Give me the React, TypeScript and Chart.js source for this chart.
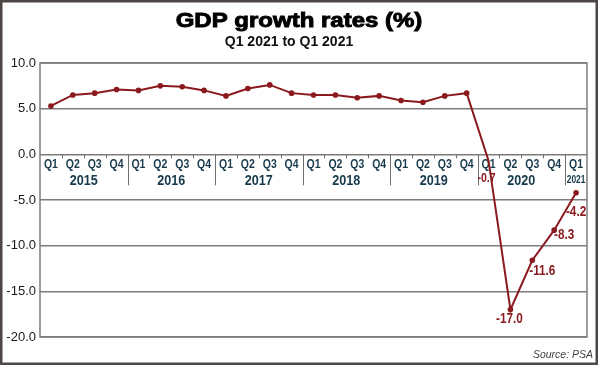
import React, { useEffect, useRef } from "react";
import { Chart, registerables } from "chart.js";

Chart.register(...registerables);

const categories = [
  "Q1 2015", "Q2 2015", "Q3 2015", "Q4 2015",
  "Q1 2016", "Q2 2016", "Q3 2016", "Q4 2016",
  "Q1 2017", "Q2 2017", "Q3 2017", "Q4 2017",
  "Q1 2018", "Q2 2018", "Q3 2018", "Q4 2018",
  "Q1 2019", "Q2 2019", "Q3 2019", "Q4 2019",
  "Q1 2020", "Q2 2020", "Q3 2020", "Q4 2020",
  "Q1 2021",
];

const gdpGrowth = [
  5.3, 6.5, 6.7, 7.1,
  7.0, 7.5, 7.4, 7.0,
  6.4, 7.2, 7.6, 6.7,
  6.5, 6.5, 6.2, 6.4,
  5.9, 5.7, 6.4, 6.7,
  -0.7, -17.0, -11.6, -8.3,
  -4.2,
];

const yTicks = [10, 5, 0, -5, -10, -15, -20];

const TITLE = "GDP growth rates (%)";
const SUBTITLE = "Q1 2021 to Q1 2021";
const SOURCE = "Source: PSA";

const SANS = "'Liberation Sans', Arial, sans-serif";
const LINE_COLOR = "#8b1a1e";
const AXIS_TEXT = "#173a4c";
const GRID = "#7c7c7c";
const NARROW_X = 0.84;

// label offsets (px) relative to the point and font size, by category index
const labelOffsets: Record<number, [number, number, number]> = {
  20: [-2, 18, 12.5],
  21: [-1, 10, 14],
  22: [10, 11, 14],
  23: [10, 5, 14],
  24: [0, 19, 14],
};

function scaledText(ctx: any, text: string, x: number, y: number, sx: number) {
  ctx.save();
  ctx.translate(x, y);
  ctx.scale(sx, 1);
  ctx.fillText(text, 0, 0);
  ctx.restore();
}

function narrowText(ctx: any, text: string, x: number, y: number) {
  scaledText(ctx, text, x, y, NARROW_X);
}

const framePlugin = {
  id: "frame",
  beforeDraw(chart: any) {
    const { ctx, width, height } = chart;
    ctx.save();
    ctx.fillStyle = "#ffffff";
    ctx.fillRect(0, 0, width, height);
    ctx.strokeStyle = "#4d4846";
    ctx.lineWidth = 2.5;
    ctx.strokeRect(1.25, 1.25, width - 4.5, height - 2.5);
    ctx.restore();
  },
  afterDraw(chart: any) {
    const { ctx, width, height } = chart;
    ctx.save();
    ctx.textAlign = "center";
    ctx.textBaseline = "alphabetic";
    // heavy title
    ctx.fillStyle = "#000";
    ctx.strokeStyle = "#000";
    ctx.lineWidth = 0.9;
    ctx.font = `bold 20px ${SANS}`;
    ctx.save();
    ctx.translate(299, 27);
    ctx.scale(1.2, 1);
    ctx.fillText(TITLE, 0, 0);
    ctx.strokeText(TITLE, 0, 0);
    ctx.restore();
    // subtitle
    ctx.fillStyle = "#111";
    ctx.font = `bold 14px ${SANS}`;
    ctx.fillText(SUBTITLE, 289, 45.5);
    // source
    ctx.font = `italic 10.5px ${SANS}`;
    ctx.fillStyle = "#444";
    ctx.textAlign = "right";
    ctx.textBaseline = "middle";
    ctx.fillText(SOURCE, width - 7, height - 10);
    ctx.restore();
  },
};

const quarterAxisPlugin = {
  id: "quarterAxis",
  beforeDatasetsDraw(chart: any) {
    const { ctx, chartArea, scales } = chart;
    const x = scales.x;
    const y = scales.y;
    const y0 = y.getPixelForValue(0);
    ctx.save();
    ctx.strokeStyle = GRID;
    ctx.lineWidth = 1.5;
    ctx.strokeRect(chartArea.left, chartArea.top, chartArea.width, chartArea.height);

    ctx.strokeStyle = "#6e6e6e";
    ctx.lineWidth = 1;
    for (let i = 1; i < categories.length; i++) {
      const bx = Math.round((x.getPixelForValue(i - 1) + x.getPixelForValue(i)) / 2) + 0.5;
      const q = categories[i].split(" ")[0];
      const len = q === "Q1" ? 31 : 4;
      ctx.beginPath();
      ctx.moveTo(bx, y0);
      ctx.lineTo(bx, y0 + len);
      ctx.stroke();
    }

    ctx.fillStyle = AXIS_TEXT;
    ctx.textAlign = "center";
    ctx.textBaseline = "middle";
    ctx.font = `bold 12.5px ${SANS}`;
    categories.forEach((c, i) => {
      const q = c.split(" ")[0];
      narrowText(ctx, q, x.getPixelForValue(i), y0 + 10.5);
    });

    const groups: Record<string, number[]> = {};
    const order: string[] = [];
    categories.forEach((c, i) => {
      const yr = c.split(" ")[1];
      if (!groups[yr]) {
        groups[yr] = [];
        order.push(yr);
      }
      groups[yr].push(i);
    });
    order.forEach((yr) => {
      const idx = groups[yr];
      const cx = (x.getPixelForValue(idx[0]) + x.getPixelForValue(idx[idx.length - 1])) / 2;
      if (idx.length < 4) {
        ctx.font = `bold 10px ${SANS}`;
        narrowText(ctx, yr, cx, y0 + 26);
      } else {
        ctx.font = `bold 15px ${SANS}`;
        narrowText(ctx, yr, cx, y0 + 27);
      }
    });
    ctx.restore();
  },
  afterDatasetsDraw(chart: any) {
    const { ctx } = chart;
    const meta = chart.getDatasetMeta(0);
    ctx.save();
    ctx.fillStyle = LINE_COLOR;
    ctx.textAlign = "center";
    ctx.textBaseline = "middle";
    gdpGrowth.forEach((v, i) => {
      const off = labelOffsets[i];
      if (!off) return;
      const pt = meta.data[i];
      ctx.font = `bold ${off[2]}px ${SANS}`;
      narrowText(ctx, v.toFixed(1), pt.x + off[0], pt.y + off[1]);
    });
    ctx.restore();
  },
};

export default function App() {
  const ref = useRef<HTMLCanvasElement>(null);

  useEffect(() => {
    document.body.style.margin = "0";
    document.body.style.overflow = "hidden";
    const canvas = ref.current;
    if (!canvas) return;
    const chart = new Chart(canvas, {
      type: "line",
      data: {
        labels: categories,
        datasets: [
          {
            data: gdpGrowth,
            borderColor: LINE_COLOR,
            backgroundColor: LINE_COLOR,
            borderWidth: 2,
            tension: 0,
            pointRadius: (c: any) => (c.dataIndex === 20 ? 0 : 2.8),
            pointBorderWidth: 0,
            pointBackgroundColor: LINE_COLOR,
          },
        ],
      },
      options: {
        animation: false,
        responsive: false,
        devicePixelRatio: 1,
        layout: { padding: { left: 0, right: 13, top: 63, bottom: 28 } },
        plugins: {
          legend: { display: false },
          tooltip: { enabled: false },
          title: { display: false },
        },
        scales: {
          x: {
            type: "category",
            display: false,
            offset: true,
          },
          y: {
            min: yTicks[yTicks.length - 1],
            max: yTicks[0],
            afterFit: (scale: any) => {
              scale.width = 40;
            },
            afterBuildTicks: (scale: any) => {
              scale.ticks = yTicks.map((v) => ({ value: v }));
            },
            border: { display: false },
            grid: { color: GRID, lineWidth: 1.5, drawTicks: false },
            ticks: {
              padding: 4,
              color: "#1a1a1a",
              font: { family: SANS, size: 13 },
              callback: (v: any) => Number(v).toFixed(1),
            },
          },
        },
      },
      plugins: [framePlugin, quarterAxisPlugin],
    });
    return () => chart.destroy();
  }, []);

  return (
    <canvas
      ref={ref}
      width={600}
      height={365}
      style={{ display: "block", width: 600, height: 365 }}
    />
  );
}
